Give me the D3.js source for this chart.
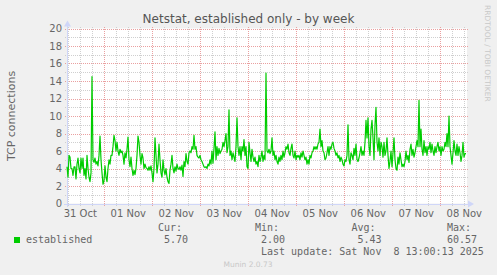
<!DOCTYPE html>
<html>
<head>
<meta charset="utf-8">
<script src="https://cdn.jsdelivr.net/npm/d3@7/dist/d3.min.js"></script>
<style>
body{margin:0;background:#f0f0f0;}
#graph{width:497px;height:275px;}
text{font-family:"DejaVu Sans",sans-serif;fill:#666666;}
.mono{font-family:"DejaVu Sans Mono",monospace;font-size:10px;white-space:pre;}
</style>
</head>
<body>
<div id="graph"></div>
<script>
var titre = "Netstat, established only - by week";
var vlabel = "TCP connections";
var debut = Date.UTC(2025, 9, 31, 5, 20); // premier point
var pas = 1800;      // secondes entre deux points
var duree = 720000;  // fenetre "week" de munin
var yTicks = [0, 2, 4, 6, 8, 10, 12, 14, 16, 18, 20];
var yMinor = [1, 3, 5, 7, 9, 11, 13, 15, 17, 19];
var xLabelDays = ["2025-10-31", "2025-11-01", "2025-11-02", "2025-11-03", "2025-11-04",
                  "2025-11-05", "2025-11-06", "2025-11-07", "2025-11-08"];

// valeurs, 30 min par point
var part1 = [4.2,3,5.5,5.3,4,4,3.2,4.2,4.2,2.8,4.5,5.2,4,3.5,5.2,4,5.2,3.2,4,2.8,
             5.5,4,3,2.5,3.5,14.5,5,4.7,5.2,4.5,4.8,4.3,5.5,7.7,5,3.5,2.2,2.6,4.3,3,
             2.5,4,5,4.5,5.5,5.5,6.5,7.8,7.2,6,7,6,5.5,6.2,5.8,6,5.5,4.5,5.8,5.2,
             6.2,7.6,5,4.2,5.3,4,3.2,3.8,3.3,4,5.5,7.7,7,5.5,4.5,5.7,5.2,4,4.5,4.1,4];
var part2 = [3.8,4.2,3.8,4.3,3.5,2.5,4,7.5,5.5,3.5,4.5,6.8,5,3.5,3,5,3.8,3.3,4,3,
             2.5,2.3,3.8,4.5,5.5,4,3.5,4.2,3.7,4.5,4,3.9,4.2,3.8,4.4,3.1,4.8,4.2,5.7,4.8,
             4.5,5.8,6,5.8,6.5,6.2,7.8,6.2,6.5,5.5,5.3,5.2,5.5,5,4.8,4.5,4.2,4.1,4.2,4,
             4.5,4.3,5,4.5,6,4.6,6.3,8.2,5,6.5,5.5,6.3,5.7,6,6.2,7,6.5,7.2,8,5.8];
var part3 = [6.5,10.7,5.5,6,5,5.8,5.3,4.8,6.5,9.8,6.5,5.5,6.5,5,6.5,6,7.3,5.5,6.5,4.2,
             4,7,5.8,4.8,6.2,5.3,4.8,5.3,4.5,4.8,4.2,5.5,4.8,5.3,6,4.8,5.5,5,14.9,6,
             5.8,6.2,5.7,6,7.5,5.5,6,5,5.5,4.8,4.5,5.3,4.8,5.5,5,6,5.3,5.8,6.5,6.2,
             6.8,5.8,5.5,6.3,6.8,5.5,5.2,6,5,5.5,5.3,5.5,5,5.8,5.3,6,5.5,5,5.3,4.5];
var part4 = [5,4.5,5.5,5.2,5.8,6,6.5,6.2,6.5,6.2,6.8,7,8.5,6.5,7.2,6,5.8,5,5.2,5.8,
             6.5,5.5,6.5,6.2,6.8,7,6.3,6,5.5,5.8,5.2,5.5,4.8,5.3,5,4.5,4.3,5,4.8,5.5,
             9,5,4.5,5.8,5.5,5,6.3,5.5,6.8,5,4.8,5.2,5.8,6.5,5.5,6,5.5,7,9.5,7.5,
             9.8,6.5,5.5,8.5,9.5,7.5,5,9,11,7,6,7.5,5.5,7,6.5,5.3,7,5.5,6,7.5];
var part5 = [5.5,4,4.8,6,4.2,5.8,7.5,5,4,3.8,5.3,4.5,5.8,5,4.2,4.5,4.2,4.8,6,5,
             5.5,4.7,6.2,6.8,5.5,6.2,5.3,5.8,6.5,7.2,6.5,11.8,6.5,8.5,6.2,5.5,7.2,5.8,6.5,5.5,
             6.5,6.2,7,5.8,6.8,6,5.5,6.5,5.8,6.5,7,6,6.5,5.5,6.5,6,6.2,7,6.5,8,
             6.5,10,6.5,5.5,4.5,5.8,7.2,6,5.5,6.8,5.5,6.5,5.8,4.8,5.5,7,5.3,5.7,5.7];

var series = ["established"];
var couleurs = ["#00cc00"];
var statNames = ["Cur:", "Min:", "Avg:", "Max:"];
var statValues = ["5.70", "2.00", "5.43", "60.57"];
var lastUpdate = "Last update: Sat Nov  8 13:00:13 2025";
var credit = "RRDTOOL / TOBI OETIKER";
var version = "Munin 2.0.73";

class muningraph {
    constructor(params) {
        var me = this;
        this.cont = d3.select("#" + params.idCont);
        this.width = params.width;
        this.height = params.height;
        var svg, left = 67, right = 467, top = 28.5, bottom = 203.5;
        var valeurs = part1.concat(part2, part3, part4, part5);
        var points = valeurs.map((v, i) => ({t: new Date(debut + i * pas * 1000), v: v}));

        var x = d3.scaleUtc().domain([new Date(debut), new Date(debut + duree * 1000)]).range([left, right]);
        var y = d3.scaleLinear().domain([0, 20]).range([bottom, top]);

        this.init = function () {
            svg = this.cont.append("svg")
                .attr("width", me.width).attr("height", me.height);
            svg.append("rect").attr("width", me.width).attr("height", me.height).style("fill", "#f0f0f0");
            svg.append("rect").attr("x", left).attr("y", top)
                .attr("width", right - left).attr("height", bottom - top).style("fill", "#ffffff");

            //grille
            var grille = svg.append("g").attr("id", "grille").attr("shape-rendering", "crispEdges");
            var heures = d3.utcHour.every(6).range(x.domain()[0], x.domain()[1]).filter(d => d.getUTCHours() != 0);
            var jours = d3.utcDay.range(x.domain()[0], x.domain()[1]);
            grille.selectAll(".vmin").data(heures).enter().append("line")
                .attr("x1", d => Math.round(x(d)) + 0.5).attr("x2", d => Math.round(x(d)) + 0.5)
                .attr("y1", top - 2).attr("y2", bottom + 2)
                .style("stroke", "#cfcfcf").style("stroke-dasharray", "1,1");
            grille.selectAll(".hmin").data(yMinor).enter().append("line")
                .attr("x1", left - 2).attr("x2", right + 2)
                .attr("y1", d => Math.round(y(d)) + 0.5).attr("y2", d => Math.round(y(d)) + 0.5)
                .style("stroke", "#cfcfcf").style("stroke-dasharray", "1,1");
            grille.selectAll(".vmaj").data(jours).enter().append("line")
                .attr("x1", d => Math.round(x(d)) + 0.5).attr("x2", d => Math.round(x(d)) + 0.5)
                .attr("y1", top - 2).attr("y2", bottom + 2)
                .style("stroke", "#eaa0a0").style("stroke-dasharray", "1,1");
            grille.selectAll(".hmaj").data(yTicks.slice(1)).enter().append("line")
                .attr("x1", left - 2).attr("x2", right + 2)
                .attr("y1", d => Math.round(y(d)) + 0.5).attr("y2", d => Math.round(y(d)) + 0.5)
                .style("stroke", "#eaa0a0").style("stroke-dasharray", "1,1");

            //axes
            var axe = svg.append("g").attr("id", "axes").attr("shape-rendering", "crispEdges");
            axe.append("line").attr("x1", left - 3).attr("x2", right + 3)
                .attr("y1", Math.round(y(0)) + 0.5).attr("y2", Math.round(y(0)) + 0.5)
                .style("stroke", "#cfd6f8");
            axe.append("line").attr("x1", left + 0.5).attr("x2", left + 0.5)
                .attr("y1", bottom + 3).attr("y2", top - 5)
                .style("stroke", "#cfd6f8");
            svg.append("path").attr("d", "M" + (right + 1) + "," + (y(0) - 3) + "L" + (right + 7) + "," + (y(0) + 0.5) + "L" + (right + 1) + "," + (y(0) + 4) + "Z")
                .style("fill", "#cfd6f8");
            svg.append("path").attr("d", "M" + (left - 3) + "," + (top - 2) + "L" + (left + 0.5) + "," + (top - 8) + "L" + (left + 4) + "," + (top - 2) + "Z")
                .style("fill", "#cfd6f8");

            //etiquettes
            svg.append("g").selectAll("text").data(yTicks).enter().append("text")
                .attr("x", left - 5).attr("y", d => y(d) + 3.5)
                .attr("text-anchor", "end").style("font-size", "10px")
                .text(d => d);
            var fmt = d3.utcFormat("%d %b");
            svg.append("g").selectAll("text").data(xLabelDays).enter().append("text")
                .attr("x", d => x(d3.utcHour.offset(new Date(d + "T00:00:00Z"), 12)))
                .attr("y", 217).attr("text-anchor", "middle").style("font-size", "10px")
                .text(d => fmt(new Date(d + "T00:00:00Z")));

            svg.append("text").attr("x", 248.5).attr("y", 23).attr("text-anchor", "middle")
                .style("font-size", "12px").style("fill", "#555").text(titre);
            svg.append("text").attr("transform", "translate(15," + ((top + bottom) / 2) + ") rotate(-90)")
                .attr("text-anchor", "middle").style("font-size", "11px").text(vlabel);
            svg.append("text").attr("transform", "translate(485,5) rotate(90)")
                .style("font-size", "7.5px").style("fill", "#c8c8c8").text(credit);

            //courbe
            var ligne = d3.line().x(d => x(d.t)).y(d => y(d.v));
            svg.append("path").datum(points)
                .attr("d", ligne)
                .style("fill", "none").style("stroke", couleurs[0]).style("stroke-width", 1.2)
                .style("stroke-linejoin", "round");

            //legende
            var leg = svg.append("g").attr("id", "legende");
            leg.append("rect").attr("x", 14).attr("y", 237).attr("width", 6).attr("height", 6)
                .style("fill", couleurs[0]);
            leg.append("text").attr("class", "mono").attr("x", 26).attr("y", 243).text(series[0]);
            var colX = [158, 255, 351.5, 447];
            leg.selectAll(".nom").data(statNames).enter().append("text").attr("class", "mono")
                .attr("x", (d, i) => colX[i]).attr("y", 231).text(d => d);
            leg.selectAll(".val").data(statValues).enter().append("text").attr("class", "mono")
                .attr("x", (d, i) => colX[i] + 6 * (5 - d.length)).attr("y", 243).text(d => d);
            leg.append("text").attr("class", "mono").attr("x", 261).attr("y", 255).text(lastUpdate);
            svg.append("text").attr("x", 248).attr("y", 267).attr("text-anchor", "middle")
                .style("font-size", "7.5px").style("fill", "#c8c8c8").text(version);
        }

        me.init();
    }
}

new muningraph({idCont: "graph", width: 497, height: 275});
</script>
</body>
</html>
